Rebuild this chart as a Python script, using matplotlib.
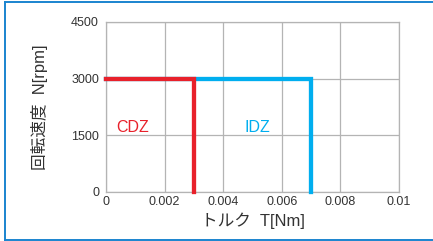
"""Rotation speed vs torque operating zones (CDZ / IDZ)."""

import matplotlib
matplotlib.use("Agg")
import matplotlib.pyplot as plt
from matplotlib.lines import Line2D

plt.rcParams["font.family"] = ["Liberation Sans", "Noto Sans CJK JP", "DejaVu Sans"]

# zone limits: torque [Nm], speed [rpm]
zones = ["IDZ", "CDZ"]
zone_torque = [0.007, 0.003]
zone_speed = [3000, 3000]
zone_colors = ["#00aeef", "#e8212b"]
label_pos = [(0.00474, 1700), (0.00034, 1700)]

x_ticks = [0, 0.002, 0.004, 0.006, 0.008, 0.01]
x_ticklabels = ["0", "0.002", "0.004", "0.006", "0.008", "0.01"]
y_ticks = [0, 1500, 3000, 4500]

W, H = 433, 241
fig = plt.figure(figsize=(W / 100, H / 100), dpi=100)
ax = fig.add_axes([106 / W, 1 - 192 / H, 293 / W, 170 / H])

for name, t, n, c, (lx, ly) in zip(zones, zone_torque, zone_speed, zone_colors, label_pos):
    ax.plot([0, t, t], [n, n, 0], color=c, linewidth=3.1,
            solid_joinstyle="miter", zorder=3, clip_on=False)
    ax.text(lx, ly, name, color=c, fontsize=11.5, ha="left", va="center")

ax.set_xlim(0, 0.01)
ax.set_ylim(0, 4500)
ax.set_xticks(x_ticks)
ax.set_xticklabels(x_ticklabels)
ax.set_yticks(y_ticks)
ax.tick_params(length=0, labelsize=9, colors="#333333")
ax.tick_params(axis="y", pad=5)
ax.tick_params(axis="x", pad=3)
ax.grid(True, color="#b4b4b4", linewidth=0.9)
for s in ax.spines.values():
    s.set_color("#b4b4b4")
    s.set_linewidth(0.9)

ax.set_xlabel("トルク  T[Nm]", fontsize=12, color="#333333", labelpad=3)
ax.set_ylabel("回転速度  N[rpm]", fontsize=12, color="#333333", labelpad=17)

# frame around the figure
border = "#1a84cf"
fig.add_artist(Line2D([4.5 / W, 4.5 / W], [1 - 1.5 / H, 1 - 239.5 / H],
                      transform=fig.transFigure, color=border, linewidth=1.4))
fig.add_artist(Line2D([4.5 / W, 1], [1 - 1.5 / H, 1 - 1.5 / H],
                      transform=fig.transFigure, color=border, linewidth=1.4))
fig.add_artist(Line2D([4.5 / W, 1], [1 - 239.5 / H, 1 - 239.5 / H],
                      transform=fig.transFigure, color=border, linewidth=1.4))

fig.savefig("out.png", dpi=100)
